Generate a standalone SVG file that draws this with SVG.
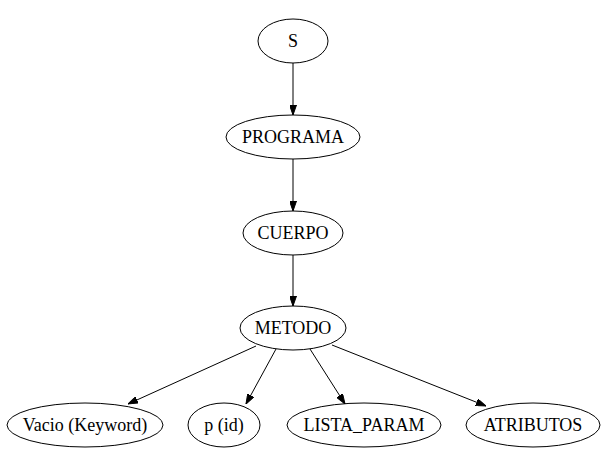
<svg xmlns="http://www.w3.org/2000/svg" width="604" height="465" viewBox="0 0 604 465">
<style>
.n ellipse{fill:none;stroke:#000;stroke-width:1}
.n text{font-family:"Liberation Serif","Times New Roman",serif;font-size:18px;fill:#000;text-anchor:middle}
.e path{fill:none;stroke:#000;stroke-width:1}
</style>
<defs>
<marker id="a" markerWidth="10" markerHeight="7" refX="10" refY="3.5" orient="auto" markerUnits="userSpaceOnUse">
<path d="M0,0 L10,3.5 L0,7 Z" fill="#000" stroke="#000"/>
</marker>
</defs>
<rect width="604" height="465" fill="#fff"/>
<g id="edges" class="e">
<path d="M293,63 L293,115" marker-end="url(#a)"/>
<path d="M293,159 L293,211" marker-end="url(#a)"/>
<path d="M293,255 L293,306" marker-end="url(#a)"/>
<path d="M256,346 L128,404" marker-end="url(#a)"/>
<path d="M276,349 L246,404" marker-end="url(#a)"/>
<path d="M310,349 L345,404" marker-end="url(#a)"/>
<path d="M332,345 L486,406" marker-end="url(#a)"/>
</g>
<g id="S" class="n"><ellipse cx="293" cy="41" rx="35" ry="22"/><text x="293" y="47">S</text></g>
<g id="PROGRAMA" class="n"><ellipse cx="293" cy="137" rx="67" ry="22"/><text x="293" y="143">PROGRAMA</text></g>
<g id="CUERPO" class="n"><ellipse cx="293" cy="233" rx="50" ry="22"/><text x="293" y="239">CUERPO</text></g>
<g id="METODO" class="n"><ellipse cx="293" cy="328" rx="53" ry="22"/><text x="293" y="334">METODO</text></g>
<g id="Vacio" class="n"><ellipse cx="85" cy="425" rx="78" ry="22"/><text x="85" y="431">Vacio (Keyword)</text></g>
<g id="p" class="n"><ellipse cx="224" cy="425" rx="36" ry="22"/><text x="224" y="431">p (id)</text></g>
<g id="LISTA_PARAM" class="n"><ellipse cx="364" cy="425" rx="77" ry="22"/><text x="364" y="431">LISTA_PARAM</text></g>
<g id="ATRIBUTOS" class="n"><ellipse cx="533" cy="425" rx="67" ry="22"/><text x="533" y="431">ATRIBUTOS</text></g>
</svg>
